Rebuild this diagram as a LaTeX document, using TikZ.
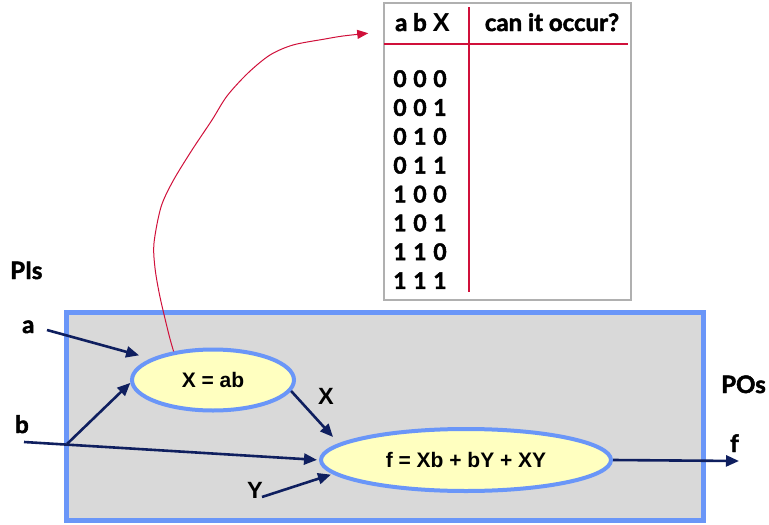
\documentclass[tikz,border=0pt]{standalone}
\usepackage{fontspec}
\setmainfont{Lato}[BoldFeatures={FakeBold=2}]
\newfontfamily\arialf{Liberation Sans}
\usetikzlibrary{shapes.geometric,arrows.meta,calc}
\definecolor{boxblue}{HTML}{6A96F8}
\definecolor{boxgray}{HTML}{D9D9D9}
\definecolor{elly}{HTML}{FFFFC0}
\definecolor{navyc}{HTML}{0F1F5F}
\definecolor{redc}{HTML}{D0103A}
\definecolor{tblgray}{HTML}{B0B0B0}
\newcommand\bitrow[3]{\makebox[20pt]{#1}\makebox[20pt]{#2}\makebox[20pt]{#3}}
\begin{document}
\begin{tikzpicture}[x=1pt,y=-1pt,
  fun/.style={ellipse, draw=boxblue, line width=4pt, fill=elly, inner sep=0pt,
    font=\arialf\bfseries\fontsize{21}{24}\selectfont},
  sig/.style={-{Triangle[length=13pt,width=11pt]}, draw=navyc, line width=2.6pt},
  lab/.style={anchor=base west, inner sep=0pt, font=\bfseries\fontsize{24}{27}\selectfont},
  labA/.style={anchor=base west, inner sep=0pt, font=\arialf\bfseries\fontsize{23.5}{27}\selectfont},
  hdr/.style={inner sep=0pt, font=\bfseries\fontsize{24}{27}\selectfont},
  bits/.style={anchor=base, inner sep=0pt, font=\bfseries\fontsize{23}{26}\selectfont},
  redl/.style={draw=redc, line width=2pt}]
\useasboundingbox (0,0) rectangle (769,525);
% system box
\node[draw=boxblue, fill=boxgray, line width=5pt, minimum width=637pt, minimum height=208.5pt, inner sep=0pt] (sys) at (385,416.25) {};
% table
\node[draw=tblgray, line width=1.5pt, fill=white, minimum width=247pt, minimum height=297pt, inner sep=0pt] (tbl) at (507.5,151.5) {};
\draw[redl] (469,7) -- (469,292);
\draw[redl] (384,44) -- (628,44);
\node[hdr, anchor=base west] (hab) at (395,31) {a b {\arialf\fontsize{26}{29}\selectfont X}};
\node[hdr, anchor=base] (hq) at (552,31) {can it occur?};
\foreach \a/\b/\c [count=\k from 0] in {0/0/0,0/0/1,0/1/0,0/1/1,1/0/0,1/0/1,1/1/0,1/1/1}
  \node[bits] (r\k) at (420,87+28.85*\k) {\bitrow{\a}{\b}{\c}};
% function nodes
\node[fun, minimum width=162pt, minimum height=61pt] (xab) at (213,380) {X = ab};
\node[fun, minimum width=290pt, minimum height=62pt] (fn) at (466,460) {f = Xb + bY + XY};
% labels
\node[lab] (pis) at (10,279) {PIs};
\node[lab] (la) at (22,333) {a};
\node[lab] (lb) at (15,433) {b};
\node[labA] (lx) at (318,404) {X};
\node[labA] (ly) at (247,498) {Y};
\node[lab] (pos) at (721,393) {POs};
\node[lab] (lf) at (730,452) {f};
% free ends
\coordinate (astart) at (47,330);
\coordinate (bstart) at (24,442);
\coordinate (bsplit) at (67,444);
\coordinate (ystart) at (262,497);
\coordinate (fout) at (739,461);
\coordinate (xend) at ($(fn.west)+(14,-23)$);
\coordinate (redend) at ($(tbl.north west)+(-15,31)$);
% connectors
\draw[sig, shorten >=12pt] (astart) -- (xab.161);
\draw[sig] (bsplit) -- (xab.182);
\draw[sig, shorten >=2pt] (bstart) -- (fn.west);
\draw[sig, shorten >=2pt] (ystart) -- (fn.186);
\draw[sig] (xab.352) -- (xend);
\draw[sig] (fn.east) -- (fout);
% red pointer
\draw[draw=redc, line width=1pt, -{Triangle[length=11pt,width=9pt]}]
  plot[smooth, tension=0.5] coordinates {(xab.144) (169,335) (160,297) (155,268) (154,243) (161,207) (173,181) (192,150) (212,120) (227,96) (248,73) (270,55) (293,45) (325,39) (343,36) (redend)};
\end{tikzpicture}
\end{document}
